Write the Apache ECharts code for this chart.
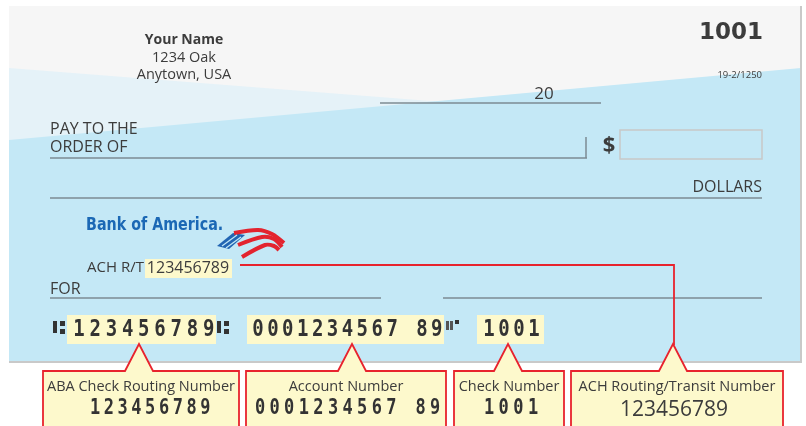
<!DOCTYPE html>
<html>
<head>
<meta charset="utf-8">
<script src="https://cdn.jsdelivr.net/npm/echarts@6/dist/echarts.min.js"></script>
<style>
html,body{margin:0;padding:0;background:#fff;}
#main{width:806px;height:426px;}
</style>
</head>
<body>
<div id="main"></div>
<script>
// texts printed on the check
var ownerLines = ['Your Name', '1234 Oak', 'Anytown, USA'];
var checkNo = '1001';
var fraction = '19-2/1250';
var datePrefix = '20';
var payLines = ['PAY TO THE', 'ORDER OF'];
var amountWord = 'DOLLARS';
var bankName = 'Bank of America.';
var achLabel = 'ACH R/T';
var achNumber = '123456789';
var memoLabel = 'FOR';
// MICR line
var micrRouting = '123456789';
var micrAccount = '0001234567 89';
var micrCheck = '1001';
// callouts
var calloutTitles = ['ABA Check Routing Number', 'Account Number', 'Check Number', 'ACH Routing/Transit Number'];
var calloutValues = [micrRouting, micrAccount, micrCheck, achNumber];

var RED = '#e8232d', INK = '#3c3c3c', YEL = '#fdf9cc', FONT = '"Open Sans", sans-serif';
var g = [];

function txt(x, y, s, size, opt) {
    opt = opt || {};
    g.push({
        type: 'text', x: x, y: y, z: opt.z || 10, scaleX: opt.sx || 1, scaleY: opt.sy || 1,
        style: {
            text: s, fill: opt.fill || INK,
            font: (opt.weight || 'normal') + ' ' + size + 'px ' + (opt.family || FONT),
            textAlign: opt.align || 'left', textVerticalAlign: 'middle'
        }
    });
}
function line(x1, y1, x2, y2, color, w, z) {
    g.push({type: 'line', z: z || 5, shape: {x1: x1, y1: y1, x2: x2, y2: y2},
        style: {stroke: color || '#7d8b93', lineWidth: w || 1.5}});
}
function rect(x, y, w, h, fill, stroke, z) {
    g.push({type: 'rect', z: z || 4, shape: {x: x, y: y, width: w, height: h},
        style: {fill: fill || 'none', stroke: stroke || null, lineWidth: 1.5}});
}
// MICR style digits, one per slot
function micr(x0, step, y, s, size, z) {
    for (var i = 0; i < s.length; i++) {
        if (s[i] === ' ') continue;
        txt(x0 + i * step, y, s[i], size, {align: 'center', weight: 'bold', family: '"DejaVu Sans Mono", monospace', fill: '#333', sy: 1.2, z: z});
    }
}

// check background
rect(9, 6, 792, 356, '#f6f6f6', null, 1);
g.push({type: 'polygon', z: 2, shape: {points: [[9, 68], [801, 130], [801, 362], [9, 362]]}, style: {fill: '#e5f2f8'}});
g.push({type: 'polygon', z: 3, shape: {points: [[9, 140], [801, 68], [801, 362], [9, 362]]}, style: {fill: '#c4e8f6'}});
line(801, 6, 801, 362, '#c9c9c9', 2, 6);
line(9, 362, 802, 362, '#c9c9c9', 2, 6);

// owner block
txt(184, 40, ownerLines[0], 14, {align: 'center', weight: 'bold'});
txt(184, 58, ownerLines[1], 14.5, {align: 'center'});
txt(184, 75, ownerLines[2], 14.5, {align: 'center'});
txt(763, 33, checkNo, 23, {align: 'right', weight: 'bold', family: '"DejaVu Sans", sans-serif'});
txt(762, 75, fraction, 9.5, {align: 'right'});

// date
line(380, 103, 601, 103);
txt(544, 94, datePrefix, 17, {align: 'center'});

// payee
txt(50, 129, payLines[0], 16);
txt(50, 147, payLines[1], 16);
line(50, 158, 587, 158);
line(586, 137, 586, 158);
txt(609, 146, '$', 22, {align: 'center', weight: 'bold'});
rect(620, 130, 142, 29, null, '#c8c8c8', 5);

// amount line
txt(762, 187, amountWord, 16, {align: 'right'});
line(50, 198, 762, 198);

// bank logo
txt(86, 226, bankName, 17, {weight: 'bold', fill: '#1b68b5', family: '"DejaVu Sans", sans-serif', sx: 0.84});
g.push({type: 'polygon', z: 10, shape: {points: [[217, 246], [233, 233], [245, 235], [229, 249]]}, style: {fill: '#2265b3'}});
line(222, 246, 237, 235, '#c4e8f6', 1.2, 11);
line(226, 248, 241, 237, '#c4e8f6', 1.2, 11);
[
    [[234, 233], [258, 230], [272, 234], [284, 243]],
    [[238, 245], [262, 237], [274, 239], [282, 247]],
    [[242, 257], [265, 245], [274, 246], [279, 250]]
].forEach(function (p) {
    g.push({type: 'polyline', z: 10, shape: {points: p, smooth: 0.3}, style: {stroke: '#e3242f', lineWidth: 4}});
});

// ACH routing
txt(87, 268, achLabel, 15);
rect(145, 259, 87, 19, YEL, null, 6);
txt(188, 268, achNumber, 16, {align: 'center'});
g.push({type: 'polyline', z: 8, shape: {points: [[240, 265], [674, 265], [674, 345]]}, style: {stroke: RED, lineWidth: 1.8}});

// memo
txt(50, 289, memoLabel, 16);
line(50, 298, 381, 298);
line(443, 298, 762, 298);

// MICR line
rect(67, 315, 149, 29, YEL, null, 6);
rect(247, 315, 197, 29, YEL, null, 6);
rect(477, 315, 67, 29, YEL, null, 6);
// transit symbols
[53, 217].forEach(function (x) {
    rect(x, 321, 4, 12, '#333', null, 9);
    rect(x + 7, 321, 5, 5, '#333', null, 9);
    rect(x + 7, 329, 5, 5, '#333', null, 9);
});
// on-us symbol
rect(446, 321, 3, 9, '#555', null, 9);
rect(450, 321, 3, 9, '#555', null, 9);
rect(455, 320, 4, 4, '#333', null, 9);
micr(79, 16.2, 330, micrRouting, 19);
micr(258, 14.9, 330, micrAccount, 19);
micr(489, 15, 330, micrCheck, 19);

// callouts
var boxes = [[43, 239, 139], [246, 446, 352], [454, 564, 508], [571, 783, 673]];
boxes.forEach(function (b, i) {
    var tip = b[2];
    g.push({
        type: 'polygon', z: 12,
        shape: {points: [[b[0], 431], [b[0], 371], [tip - 14, 371], [tip, 344], [tip + 14, 371], [b[1], 371], [b[1], 431]]},
        style: {fill: YEL, stroke: RED, lineWidth: 1.8}
    });
    txt((b[0] + b[1]) / 2, 387, calloutTitles[i], 14.5, {align: 'center', z: 13});
});
micr(95, 13.8, 409, calloutValues[0], 17, 14);
micr(260, 14.6, 409, calloutValues[1], 17, 14);
micr(489, 14.7, 409, calloutValues[2], 17, 14);
txt(674, 410, calloutValues[3], 21, {align: 'center', z: 14});

var myChart = echarts.init(document.getElementById('main'));
myChart.setOption({
    backgroundColor: '#ffffff',
    animation: false,
    graphic: {elements: g}
});
</script>
</body>
</html>
